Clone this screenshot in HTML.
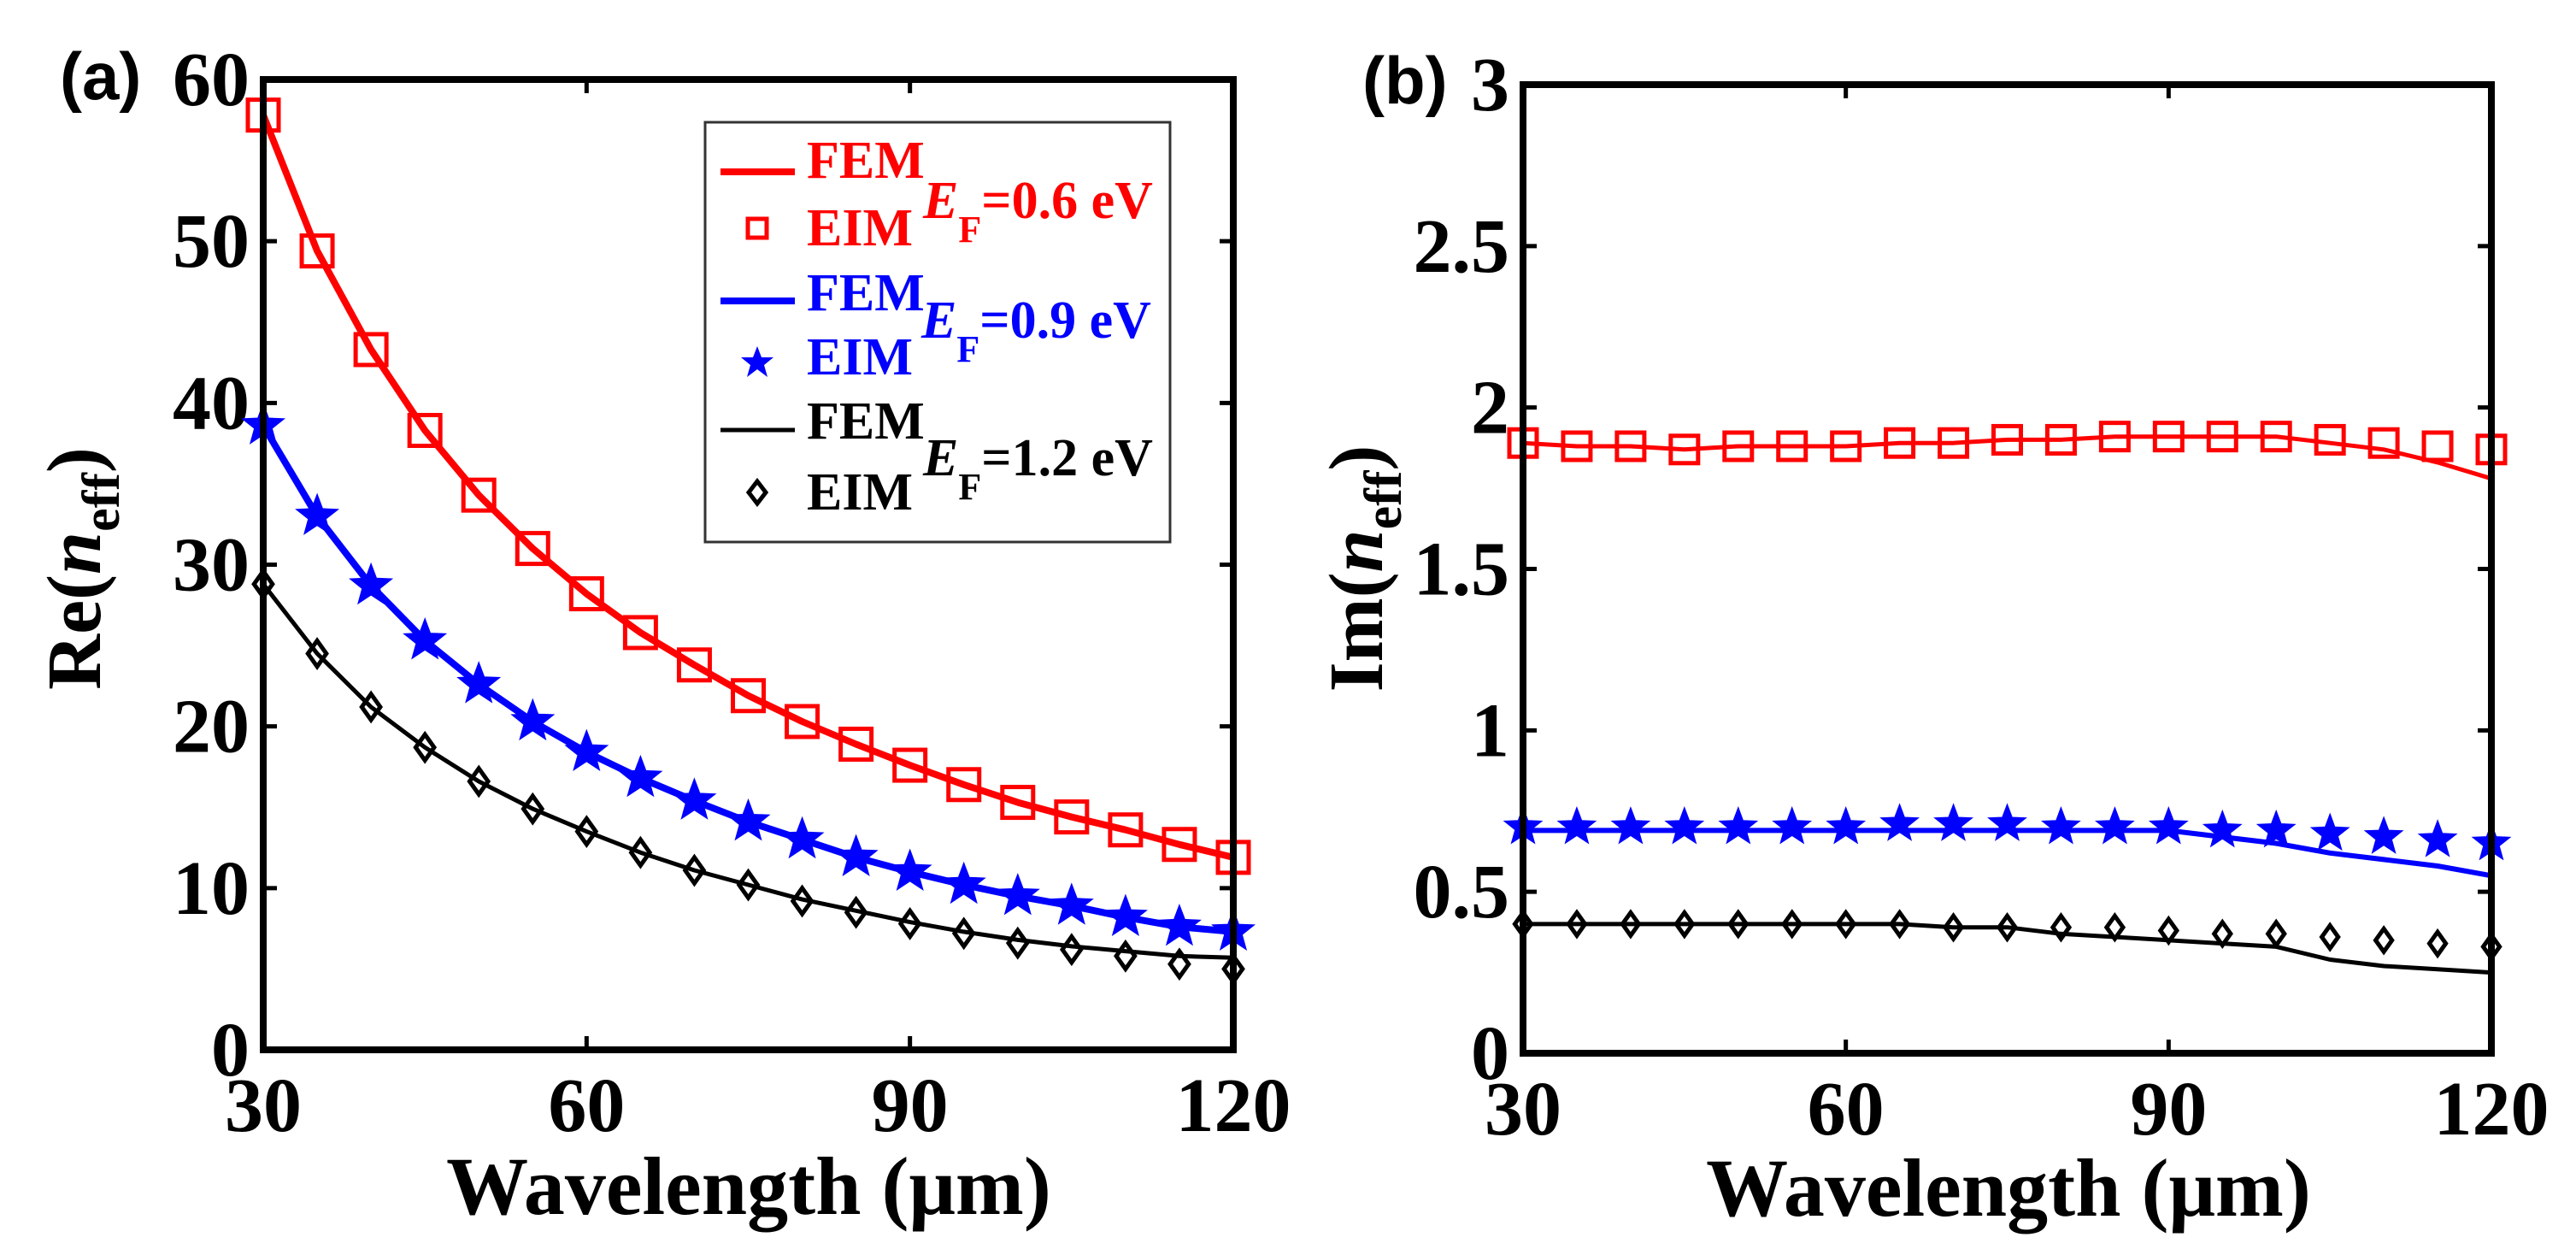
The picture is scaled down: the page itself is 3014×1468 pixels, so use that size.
<!DOCTYPE html>
<html><head><meta charset="utf-8"><style>
html,body{margin:0;padding:0;background:#fff;width:3014px;height:1468px;overflow:hidden}
svg text{font-family:"Liberation Serif",serif;font-weight:bold}
</style></head><body>
<svg id="fig" width="3014" height="1468" viewBox="0 0 3014 1468" xmlns="http://www.w3.org/2000/svg"></svg>
<script>
const xs = [30,35,40,45,50,55,60,65,70,75,80,85,90,95,100,105,110,115,120];
// Panel (a) Re(n_eff)
const reRedLine = [57.8,49.4,43.3,38.3,34.3,31.0,28.2,25.8,23.8,21.9,20.3,18.9,17.6,16.4,15.3,14.4,13.6,12.7,11.9];
const reRedPts  = [57.8,49.4,43.3,38.3,34.3,31.0,28.2,25.8,23.8,21.9,20.3,18.9,17.6,16.4,15.3,14.4,13.6,12.7,11.9];
const reBlueLine = [38.6,33.0,28.7,25.3,22.6,20.3,18.4,16.8,15.4,14.1,13.0,11.9,11.0,10.2,9.5,8.9,8.2,7.6,7.3];
const reBluePts  = [38.6,33.0,28.7,25.3,22.6,20.3,18.4,16.8,15.4,14.1,13.0,11.9,11.0,10.2,9.5,8.9,8.2,7.6,7.3];
const reBlackLine = [28.8,24.5,21.2,18.7,16.6,14.9,13.5,12.2,11.1,10.2,9.3,8.6,7.9,7.3,6.8,6.4,6.1,5.8,5.7];
const reBlackPts  = [28.8,24.5,21.2,18.7,16.6,14.9,13.5,12.2,11.1,10.2,9.2,8.5,7.8,7.2,6.6,6.2,5.8,5.3,5.0];
// Panel (b) Im(n_eff)
const imRedLine = [1.89,1.88,1.88,1.87,1.88,1.88,1.88,1.89,1.89,1.90,1.90,1.91,1.91,1.91,1.91,1.89,1.87,1.83,1.78];
const imRedPts  = [1.89,1.88,1.88,1.87,1.88,1.88,1.88,1.89,1.89,1.90,1.90,1.91,1.91,1.91,1.91,1.90,1.89,1.88,1.87];
const imBlueLine = [0.69,0.69,0.69,0.69,0.69,0.69,0.69,0.69,0.69,0.69,0.69,0.69,0.69,0.67,0.65,0.62,0.60,0.58,0.55];
const imBluePts  = [0.70,0.70,0.70,0.70,0.70,0.70,0.70,0.71,0.71,0.71,0.70,0.70,0.70,0.69,0.69,0.68,0.67,0.66,0.65];
const imBlackLine = [0.40,0.40,0.40,0.40,0.40,0.40,0.40,0.40,0.39,0.39,0.37,0.36,0.35,0.34,0.33,0.29,0.27,0.26,0.25];
const imBlackPts  = [0.40,0.40,0.40,0.40,0.40,0.40,0.40,0.40,0.39,0.39,0.39,0.39,0.38,0.37,0.37,0.36,0.35,0.34,0.33];
const xTicks = [30,60,90,120];
const reTicks = [0,10,20,30,40,50,60];
const reTickLabels = ["0","10","20","30","40","50","60"];
const imTicks = [0,0.5,1,1.5,2,2.5,3];
const imTickLabels = ["0","0.5","1","1.5","2","2.5","3"];

const NS="http://www.w3.org/2000/svg";
const svg=document.getElementById('fig');
function mk(tag,attrs,parent){const e=document.createElementNS(NS,tag);for(const k in attrs)e.setAttribute(k,attrs[k]);(parent||svg).appendChild(e);return e;}

function panel(P){
  const g=mk('g',{});
  
  
  const sx=v=>P.x0+(v-30)/(120-30)*(P.x1-P.x0);
  const sy=v=>P.y1-(v-P.ymin)/(P.ymax-P.ymin)*(P.y1-P.y0);
  // ticks
  xTicks.forEach(t=>{
    const X=sx(t);
    const tk=mk('path',{d:`M${X},${P.y1} v-16 M${X},${P.y0} v16`,stroke:'#000','stroke-width':5},g);
    
    
    const tl=mk('text',{x:X,y:P.y1+95,'font-size':90,'text-anchor':'middle'},g);
    tl.textContent=t;
    
    
  });
  P.ticks.forEach((t,i)=>{
    const Y=sy(t);
    const tk=mk('path',{d:`M${P.x0},${Y} h16 M${P.x1},${Y} h-16`,stroke:'#000','stroke-width':5},g);
    
    
    const tl=mk('text',{x:P.x0-16,y:Y+30,'font-size':90,'text-anchor':'end'},g);
    tl.textContent=P.tickLabels[i];
    
    
  });
  // series
  P.series.forEach(s=>{
    const d=s.line.map((v,i)=>(i?'L':'M')+sx(xs[i]).toFixed(1)+','+sy(v).toFixed(1)).join(' ');
    const ln=mk('path',{d,fill:'none',stroke:s.color,'stroke-width':s.lw,'stroke-linejoin':'round'},g);
    
    
    s.pts.forEach((v,i)=>{
      const m=marker(s.marker,sx(xs[i]),sy(v),s.color,P.ms,g);
      
      
    });
  });
  const fr=mk('rect',{x:P.x0,y:P.y0,width:P.x1-P.x0,height:P.y1-P.y0,fill:'none',stroke:'#000','stroke-width':8},g);
  
  
}
function marker(type,x,y,c,s,g){
  if(type==='sq') return mk('rect',{x:x-s/2,y:y-s/2,width:s,height:s,fill:'none',stroke:c,'stroke-width':5},g);
  if(type==='star'){
    const R=s*0.68,r=R*0.42;let p=[];
    for(let k=0;k<10;k++){const a=-Math.PI/2+k*Math.PI/5;const rr=k%2?r:R;p.push((x+rr*Math.cos(a)).toFixed(1)+','+(y+rr*Math.sin(a)).toFixed(1));}
    return mk('polygon',{points:p.join(' '),fill:c,stroke:c,'stroke-width':2},g);
  }
  const h=s*0.42,w=s*0.3;
  return mk('polygon',{points:`${x},${y-h} ${x+w},${y} ${x},${y+h} ${x-w},${y}`,fill:'none',stroke:c,'stroke-width':5},g);
}

panel({name:'panel-a-real-part',x0:308,x1:1443,y0:93,y1:1228,ymin:0,ymax:60,ticks:reTicks,tickLabels:reTickLabels,ms:36,
  series:[
    {key:'black-1.2ev',color:'#000',lw:5,line:reBlackLine,pts:reBlackPts,marker:'dia'},
    {key:'blue-0.9ev',color:'#0000ff',lw:8,line:reBlueLine,pts:reBluePts,marker:'star'},
    {key:'red-0.6ev',color:'#ff0000',lw:8,line:reRedLine,pts:reRedPts,marker:'sq'}]});
panel({name:'panel-b-imag-part',x0:1782,x1:2915,y0:99,y1:1232,ymin:0,ymax:3,ticks:imTicks,tickLabels:imTickLabels,ms:32,
  series:[
    {key:'black-1.2ev',color:'#000',lw:5,line:imBlackLine,pts:imBlackPts,marker:'dia'},
    {key:'blue-0.9ev',color:'#0000ff',lw:6,line:imBlueLine,pts:imBluePts,marker:'star'},
    {key:'red-0.6ev',color:'#ff0000',lw:5,line:imRedLine,pts:imRedPts,marker:'sq'}]});
</script>
<svg style="position:absolute;left:0;top:0" width="3014" height="1468" viewBox="0 0 3014 1468" xmlns="http://www.w3.org/2000/svg">
  <text x="70" y="116" font-size="78" style="font-family:'Liberation Sans',sans-serif;font-weight:bold">(a)</text>
  <text x="1594" y="121" font-size="78" style="font-family:'Liberation Sans',sans-serif;font-weight:bold">(b)</text>
  <text x="876" y="1420" font-size="96" text-anchor="middle">Wavelength (μm)</text>
  <text x="2350" y="1422" font-size="96" text-anchor="middle">Wavelength (μm)</text>
  <text transform="translate(117,665) rotate(-90)" font-size="90" text-anchor="middle">Re(<tspan font-style="italic">n</tspan><tspan font-size="62" dy="22">eff</tspan><tspan dy="-22">)</tspan></text>
  <text transform="translate(1617,665) rotate(-90)" font-size="90" text-anchor="middle">Im(<tspan font-style="italic">n</tspan><tspan font-size="62" dy="22">eff</tspan><tspan dy="-22">)</tspan></text>
  <g>
    <rect x="825" y="143" width="544" height="491" fill="#fff" stroke="#333" stroke-width="3"/>
    <line x1="843" y1="201" x2="930" y2="201" stroke="#ff0000" stroke-width="8"/>
    <text x="944" y="208" font-size="62" fill="#ff0000">FEM</text>
    <rect x="875" y="256" width="22" height="22" fill="none" stroke="#ff0000" stroke-width="5"/>
    <text x="944" y="287" font-size="62" fill="#ff0000">EIM</text>
    <text x="1080" y="255" font-size="62" fill="#ff0000"><tspan font-style="italic">E</tspan><tspan font-size="44" dy="28">F</tspan><tspan dy="-28">=0.6 eV</tspan></text>
    <line x1="843" y1="352" x2="930" y2="352" stroke="#0000ff" stroke-width="8"/>
    <text x="944" y="363" font-size="62" fill="#0000ff">FEM</text>
    <polygon points="886,405 891,418 905,418 894,427 898,441 886,432 874,441 878,427 867,418 881,418" fill="#0000ff"/>
    <text x="944" y="438" font-size="62" fill="#0000ff">EIM</text>
    <text x="1078" y="395" font-size="62" fill="#0000ff"><tspan font-style="italic">E</tspan><tspan font-size="44" dy="28">F</tspan><tspan dy="-28">=0.9 eV</tspan></text>
    <line x1="843" y1="503" x2="930" y2="503" stroke="#000" stroke-width="5"/>
    <text x="944" y="513" font-size="62" fill="#000">FEM</text>
    <polygon points="886,563 896,576 886,589 876,576" fill="none" stroke="#000" stroke-width="5"/>
    <text x="944" y="596" font-size="62" fill="#000">EIM</text>
    <text x="1080" y="556" font-size="62" fill="#000"><tspan font-style="italic">E</tspan><tspan font-size="44" dy="28">F</tspan><tspan dy="-28">=1.2 eV</tspan></text>
  </g>
</svg>
</body></html>
